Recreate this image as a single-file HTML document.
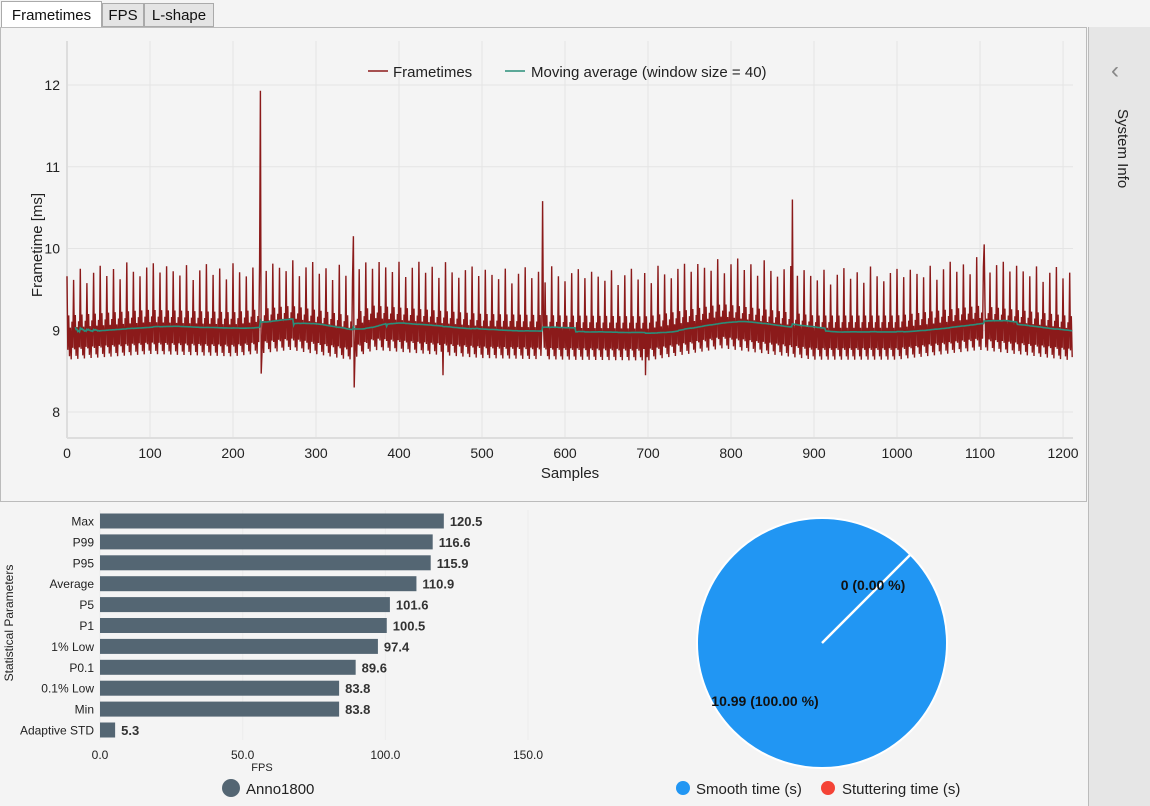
<!DOCTYPE html>
<html><head><meta charset="utf-8"><style>
body{margin:0;width:1150px;height:806px;background:#f4f4f4;font-family:"Liberation Sans",sans-serif;position:relative;overflow:hidden}
.tab{position:absolute;top:3px;height:24px;border:1px solid #aaa;background:#e4e4e4;font-size:15px;line-height:23px;text-align:center;box-sizing:border-box;color:#111}
</style></head><body>
<div class="tab" style="left:1px;width:101px;top:1px;height:27px;background:#fff;border-bottom:none;line-height:27px">Frametimes</div>
<div class="tab" style="left:102px;width:42px">FPS</div>
<div class="tab" style="left:144px;width:70px">L-shape</div>
<div style="position:absolute;left:0;top:27px;width:1087px;height:475px;border:1px solid #bbb;box-sizing:border-box;background:#f4f4f4"></div>
<div style="position:absolute;left:1088px;top:27px;width:62px;height:779px;background:#e6e6e6;border-left:1px solid #bbb">
 <div style="position:absolute;left:22px;top:30px;font-size:24px;color:#888">‹</div>
 <div style="position:absolute;top:82px;transform:rotate(90deg);transform-origin:0 0;left:42px;font-size:15px;color:#222;white-space:nowrap">System Info</div>
</div>
<svg id="ft" width="1087" height="500" style="position:absolute;left:0;top:0"></svg>
<svg id="bars" width="560" height="806" style="position:absolute;left:0;top:0"></svg>
<svg id="pie" width="520" height="806" style="position:absolute;left:560px;top:0"></svg>
<script>
const NS="http://www.w3.org/2000/svg";
function mk(p,t,a,txt){const e=document.createElementNS(NS,t);for(const k in a)e.setAttribute(k,a[k]);if(txt!==undefined)e.textContent=txt;p.appendChild(e);return e;}
// ---- frametime data ----
const sampleCount=1212;
const cyclePattern=[9.68,8.78,9.2,8.7,9.05,8.66,9.12,8.8];
const cycleOffsets=[0,-0.05,0.08,-0.1,0.02,0.1,-0.03,0.05,-0.08,0.12,0,-0.06,0.04,0.09,-0.02,0.06];
const driftSamples=[0,100,200,270,340,370,500,600,700,790,900,1000,1100,1212];
const driftValues=[-0.02,0.05,0.02,0.1,-0.02,0.1,0,-0.02,-0.03,0.12,-0.02,-0.02,0.1,-0.03];
const spikeIdx=[233,234,345,346,453,573,697,874,1105];
const spikeVal=[11.93,8.47,10.15,8.3,8.45,10.58,8.45,10.6,10.05];
const yTicks=[8,9,10,11,12];
const xTicks=[0,100,200,300,400,500,600,700,800,900,1000,1100,1200];
const frametimes=[];
for(let i=0;i<sampleCount;i++){let k=0;while(k<driftSamples.length-2&&i>driftSamples[k+1])k++;
 const d=driftValues[k]+(driftValues[k+1]-driftValues[k])*(i-driftSamples[k])/(driftSamples[k+1]-driftSamples[k]);
 let v=cyclePattern[i%8];if(i%8===0)v+=cycleOffsets[Math.floor(i/8)%16];frametimes.push(v+d);}
spikeIdx.forEach((s,j)=>frametimes[s]=spikeVal[j]);
const movingAvg=frametimes.map((v,i)=>{const a=Math.max(0,i-39);let s=0;for(let j=a;j<=i;j++)s+=frametimes[j];return s/(i-a+1);});
const X0=67,X1=1073,YT=41,YB=438;
const fx=v=>X0+v*(X1-X0)/sampleCount;
const fy=v=>412-(v-8)*81.75;
const ft=document.getElementById('ft');
mk(ft,'rect',{x:X0,y:YT,width:X1-X0,height:YB-YT,fill:'#f4f4f4'});
xTicks.forEach(t=>{const l=mk(ft,'line',{x1:fx(t),x2:fx(t),y1:YT,y2:YB,stroke:'#e4e4e4'});
 const tx=mk(ft,'text',{x:fx(t),y:458,'text-anchor':'middle','font-size':14,fill:'#222'},t);});
yTicks.forEach(t=>{const l=mk(ft,'line',{x1:X0,x2:X1,y1:fy(t),y2:fy(t),stroke:'#e4e4e4'});
 const tx=mk(ft,'text',{x:60,y:fy(t)+5,'text-anchor':'end','font-size':14,fill:'#222'},t);});
mk(ft,'line',{x1:X0,x2:X0,y1:YT,y2:YB,stroke:'#ddd','stroke-width':2});
mk(ft,'line',{x1:X0,x2:X1,y1:YB,y2:YB,stroke:'#ddd','stroke-width':2});
const ftl=mk(ft,'polyline',{points:frametimes.map((v,i)=>fx(i).toFixed(1)+','+fy(v).toFixed(1)).join(' '),fill:'none',stroke:'#8b1a1a','stroke-width':1.4});

const mal=mk(ft,'polyline',{points:movingAvg.slice(10).map((v,i)=>fx(i+10).toFixed(1)+','+fy(v).toFixed(1)).join(' '),fill:'none',stroke:'#2a8f7a','stroke-width':1.6});

mk(ft,'line',{x1:368,x2:388,y1:71,y2:71,stroke:'#8b1a1a','stroke-width':1.5});
mk(ft,'text',{x:393,y:77,'font-size':15,fill:'#222'},'Frametimes');
mk(ft,'line',{x1:505,x2:525,y1:71,y2:71,stroke:'#2a8f7a','stroke-width':1.5});
mk(ft,'text',{x:531,y:77,'font-size':15,fill:'#222'},'Moving average (window size = 40)');
mk(ft,'text',{x:570,y:478,'text-anchor':'middle','font-size':15,fill:'#222'},'Samples');
mk(ft,'text',{x:0,y:0,'text-anchor':'middle','font-size':15,fill:'#222',transform:'translate(42,245) rotate(-90)'},'Frametime [ms]');
// ---- bar chart ----
const barLabels=['Max','P99','P95','Average','P5','P1','1% Low','P0.1','0.1% Low','Min','Adaptive STD'];
const barValues=[120.5,116.6,115.9,110.9,101.6,100.5,97.4,89.6,83.8,83.8,5.3];
const barTicks=[0,50,100,150];
const bs=document.getElementById('bars');
const bx=v=>100+v*428/150;
const by=i=>521+i*20.9;
barTicks.forEach(t=>{mk(bs,'line',{x1:bx(t),x2:bx(t),y1:510,y2:740,stroke:'#ededed'});
 const tx=mk(bs,'text',{x:bx(t),y:759,'text-anchor':'middle','font-size':12,fill:'#222'},t.toFixed(1));});
barLabels.forEach((l,i)=>{const r=mk(bs,'rect',{x:bx(0),y:by(i)-7.5,width:bx(barValues[i])-bx(0),height:15,fill:'#546673'});
 
 mk(bs,'text',{x:94,y:by(i)+4.5,'text-anchor':'end','font-size':12,fill:'#222'},l);
 mk(bs,'text',{x:bx(barValues[i])+6,y:by(i)+5,'font-size':13,'font-weight':'bold',fill:'#333'},barValues[i].toFixed(1));});
mk(bs,'text',{x:262,y:771,'text-anchor':'middle','font-size':11,fill:'#222'},'FPS');
mk(bs,'text',{x:0,y:0,'text-anchor':'middle','font-size':12,fill:'#222',transform:'translate(13,623) rotate(-90)'},'Statistical Parameters');
const ld=mk(bs,'circle',{cx:231,cy:788,r:9,fill:'#546673'});
mk(bs,'text',{x:246,y:794,'font-size':15,fill:'#222'},'Anno1800');
// ---- pie ----
const pieValues=[10.99,0];
const pieLabels=['10.99 (100.00 %)','0 (0.00 %)'];
const ps=document.getElementById('pie');
const pcx=822-560,pcy=643,pr=125;
const total=pieValues.reduce((a,b)=>a+b,0);
const sl=mk(ps,'circle',{cx:pcx,cy:pcy,r:pr,fill:'#2196f3',stroke:'#fff','stroke-width':2});
const ang=-Math.PI/4+2*Math.PI*pieValues[1]/total;
mk(ps,'line',{x1:pcx,y1:pcy,x2:pcx+pr*Math.cos(ang),y2:pcy+pr*Math.sin(ang),stroke:'#fff','stroke-width':2.5});
mk(ps,'text',{x:313,y:590,'text-anchor':'middle','font-size':14,'font-weight':'bold',fill:'#111'},pieLabels[1]);
mk(ps,'text',{x:205,y:706,'text-anchor':'middle','font-size':14,'font-weight':'bold',fill:'#111'},pieLabels[0]);
mk(ps,'circle',{cx:123,cy:788,r:7,fill:'#2196f3'});
mk(ps,'text',{x:136,y:794,'font-size':15,fill:'#222'},'Smooth time (s)');
mk(ps,'circle',{cx:268,cy:788,r:7,fill:'#f44336'});
mk(ps,'text',{x:282,y:794,'font-size':15,fill:'#222'},'Stuttering time (s)');
</script>
</body></html>
